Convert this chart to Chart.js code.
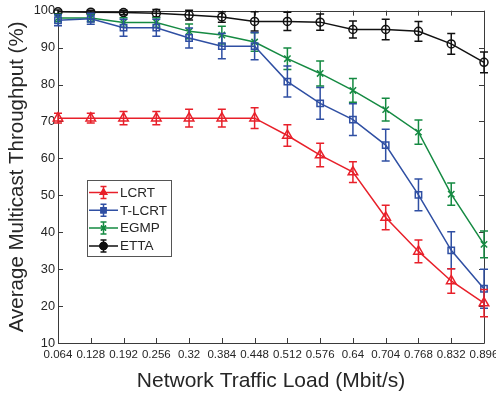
<!DOCTYPE html>
<html>
<head>
<meta charset="utf-8">
<script src="https://cdn.jsdelivr.net/npm/chart.js@4.4.1/dist/chart.umd.min.js"></script>
<style>
  body { margin: 0; background: #fff; }
  #wrap { width: 496px; height: 394px; }
</style>
</head>
<body>
<div id="wrap"><canvas id="chart"></canvas></div>
<script>
// x axis categories (network traffic load, Mbit/s)
const xLabels = ["0.064", "0.128", "0.192", "0.256", "0.32", "0.384", "0.448",
                 "0.512", "0.576", "0.64", "0.704", "0.768", "0.832", "0.896"];

// average multicast throughput (%) and error bar half-widths
const lcrt     = [70.9, 70.9, 70.9, 70.9, 70.9, 70.9, 70.9, 66.2, 60.9, 56.3, 44.0, 34.8, 26.8, 20.8];
const lcrtErr  = [1.3, 1.3, 1.8, 1.8, 2.4, 2.4, 2.8, 2.9, 3.2, 2.8, 3.3, 3.1, 3.3, 3.7];

const tlcrt    = [97.4, 97.8, 95.4, 95.4, 92.6, 90.4, 90.4, 80.8, 74.9, 70.5, 63.6, 50.1, 35.1, 24.7];
const tlcrtErr = [1.5, 1.5, 2.3, 2.3, 2.7, 3.4, 3.7, 4.2, 4.3, 4.3, 4.3, 4.3, 5.0, 5.3];

const egmp     = [98.0, 98.0, 96.8, 96.8, 94.4, 93.4, 91.5, 87.0, 83.0, 78.4, 73.2, 67.1, 50.3, 36.7];
const egmpErr  = [1.0, 1.0, 1.3, 1.3, 2.0, 2.4, 2.5, 2.9, 3.4, 3.2, 3.1, 3.3, 3.0, 3.6];

const etta     = [99.7, 99.6, 99.5, 99.3, 98.8, 98.3, 97.1, 97.1, 96.9, 94.9, 94.9, 94.4, 91.0, 86.0];
const ettaErr  = [0.5, 0.5, 0.6, 1.0, 1.3, 1.4, 2.6, 2.5, 2.2, 2.3, 2.8, 2.7, 2.8, 2.8];

const yTicks = [10, 20, 30, 40, 50, 60, 70, 80, 90, 100];

const AXIS = "#3a3a3a";
const TEXT = "#262626";

Chart.defaults.font.family = "'Liberation Sans', Arial, sans-serif";
Chart.defaults.color = TEXT;

function series(label, data, err, color, style, radius) {
    return {
        label: label,
        data: data,
        errors: err,
        borderColor: color,
        backgroundColor: color,
        borderWidth: 1.5,
        pointStyle: style,
        pointRadius: radius,
        pointHoverRadius: radius,
        pointBorderWidth: 1.5,
        pointBackgroundColor: "rgba(0,0,0,0)",
        pointBorderColor: color,
        tension: 0,
        clip: false
    };
}

// error bars, drawn just before each series so the draw order follows the series
const errorBars = {
    id: "errorBars",
    beforeDatasetDraw(chart, args) {
        const ds = chart.data.datasets[args.index];
        const meta = args.meta;
        const y = chart.scales.y;
        const ctx = chart.ctx;
        ctx.save();
        ctx.strokeStyle = ds.borderColor;
        ctx.lineWidth = 1.5;
        meta.data.forEach((pt, i) => {
            const v = ds.data[i], e = ds.errors[i];
            const top = y.getPixelForValue(v + e);
            const bot = y.getPixelForValue(v - e);
            ctx.beginPath();
            ctx.moveTo(pt.x, top); ctx.lineTo(pt.x, bot);
            ctx.moveTo(pt.x - 4, top); ctx.lineTo(pt.x + 4, top);
            ctx.moveTo(pt.x - 4, bot); ctx.lineTo(pt.x + 4, bot);
            ctx.stroke();
        });
        ctx.restore();
    }
};

// MATLAB-like box with inward ticks
const axesBox = {
    id: "axesBox",
    beforeDatasetsDraw(chart) {
        const { ctx, chartArea: a, scales } = chart;
        ctx.save();
        ctx.strokeStyle = AXIS;
        ctx.lineWidth = 1;
        ctx.beginPath();
        ctx.rect(Math.round(a.left) + 0.5, Math.round(a.top) + 0.5,
                 Math.round(a.right - a.left), Math.round(a.bottom - a.top));
        scales.x.ticks.forEach((t, i) => {
            const px = Math.round(scales.x.getPixelForTick(i)) + 0.5;
            ctx.moveTo(px, a.bottom); ctx.lineTo(px, a.bottom - 5);
            ctx.moveTo(px, a.top); ctx.lineTo(px, a.top + 5);
        });
        scales.y.ticks.forEach(t => {
            const py = Math.round(scales.y.getPixelForValue(t.value)) + 0.5;
            ctx.moveTo(a.left, py); ctx.lineTo(a.left + 5, py);
            ctx.moveTo(a.right, py); ctx.lineTo(a.right - 5, py);
        });
        ctx.stroke();
        ctx.restore();
    }
};

// legend box in the lower-left of the plot
const boxLegend = {
    id: "boxLegend",
    afterDraw(chart) {
        const ctx = chart.ctx;
        const x0 = 87.5, y0 = 180.5, w = 84, h = 76;
        ctx.save();
        ctx.fillStyle = "#fff";
        ctx.strokeStyle = "#555";
        ctx.lineWidth = 1;
        ctx.fillRect(x0, y0, w, h);
        ctx.strokeRect(x0, y0, w, h);
        chart.data.datasets.forEach((ds, i) => {
            const cy = 192.5 + i * 17.8;
            ctx.strokeStyle = ds.borderColor;
            ctx.lineWidth = 1.5;
            ctx.beginPath();
            ctx.moveTo(89, cy); ctx.lineTo(118, cy);
            ctx.moveTo(103.5, cy - 6); ctx.lineTo(103.5, cy + 6);
            ctx.moveTo(100.5, cy - 6); ctx.lineTo(106.5, cy - 6);
            ctx.moveTo(100.5, cy + 6); ctx.lineTo(106.5, cy + 6);
            ctx.stroke();
            ctx.fillStyle = ds.borderColor;
            Chart.helpers.drawPoint(ctx, {
                pointStyle: ds.pointStyle, radius: 3.5, borderWidth: 1.5, rotation: 0
            }, 103.5, cy);
            ctx.fill();
            ctx.stroke();
            ctx.fillStyle = TEXT;
            ctx.font = "13.5px 'Liberation Sans', Arial, sans-serif";
            ctx.textBaseline = "middle";
            ctx.textAlign = "left";
            ctx.fillText(ds.label, 120, cy + 0.5);
        });
        ctx.restore();
    }
};

new Chart(document.getElementById("chart"), {
    type: "line",
    data: {
        labels: xLabels,
        datasets: [
            series("LCRT", lcrt, lcrtErr, "#e8202a", "triangle", 5.5),
            series("T-LCRT", tlcrt, tlcrtErr, "#2f4fa3", "rect", 4.5),
            series("EGMP", egmp, egmpErr, "#158a42", "crossRot", 4.5),
            series("ETTA", etta, ettaErr, "#111111", "circle", 4)
        ]
    },
    options: {
        responsive: true,
        maintainAspectRatio: false,
        animation: false,
        events: [],
        layout: { padding: { top: 9, right: 12, left: 0, bottom: 0 } },
        plugins: {
            legend: { display: false },
            tooltip: { enabled: false }
        },
        scales: {
            x: {
                type: "category",
                offset: false,
                grid: { display: false, drawTicks: false },
                border: { display: false },
                ticks: {
                    autoSkip: false, maxRotation: 0, minRotation: 0,
                    padding: 5, color: TEXT,
                    font: { size: 11.5 }
                },
                title: {
                    display: true, text: "Network Traffic Load (Mbit/s)",
                    color: TEXT, font: { size: 21 },
                    padding: { top: 3.5, bottom: 0 }
                },
                afterFit(scale) {
                    scale.height = 51;
                    scale.paddingLeft = 0;
                    scale.paddingRight = 0;
                }
            },
            y: {
                min: 10,
                max: 100,
                grid: { display: false, drawTicks: false },
                border: { display: false },
                afterBuildTicks(scale) {
                    scale.ticks = yTicks.map(v => ({ value: v }));
                },
                ticks: {
                    padding: 3, color: TEXT,
                    font: { size: 12.8 }
                },
                title: {
                    display: true, text: "Average Multicast Throughput (%)",
                    color: TEXT, font: { size: 20.5 },
                    padding: { top: 5.5, bottom: 0 }
                },
                afterFit(scale) {
                    scale.width = 58;
                }
            }
        }
    },
    plugins: [errorBars, axesBox, boxLegend]
});
</script>
</body>
</html>
